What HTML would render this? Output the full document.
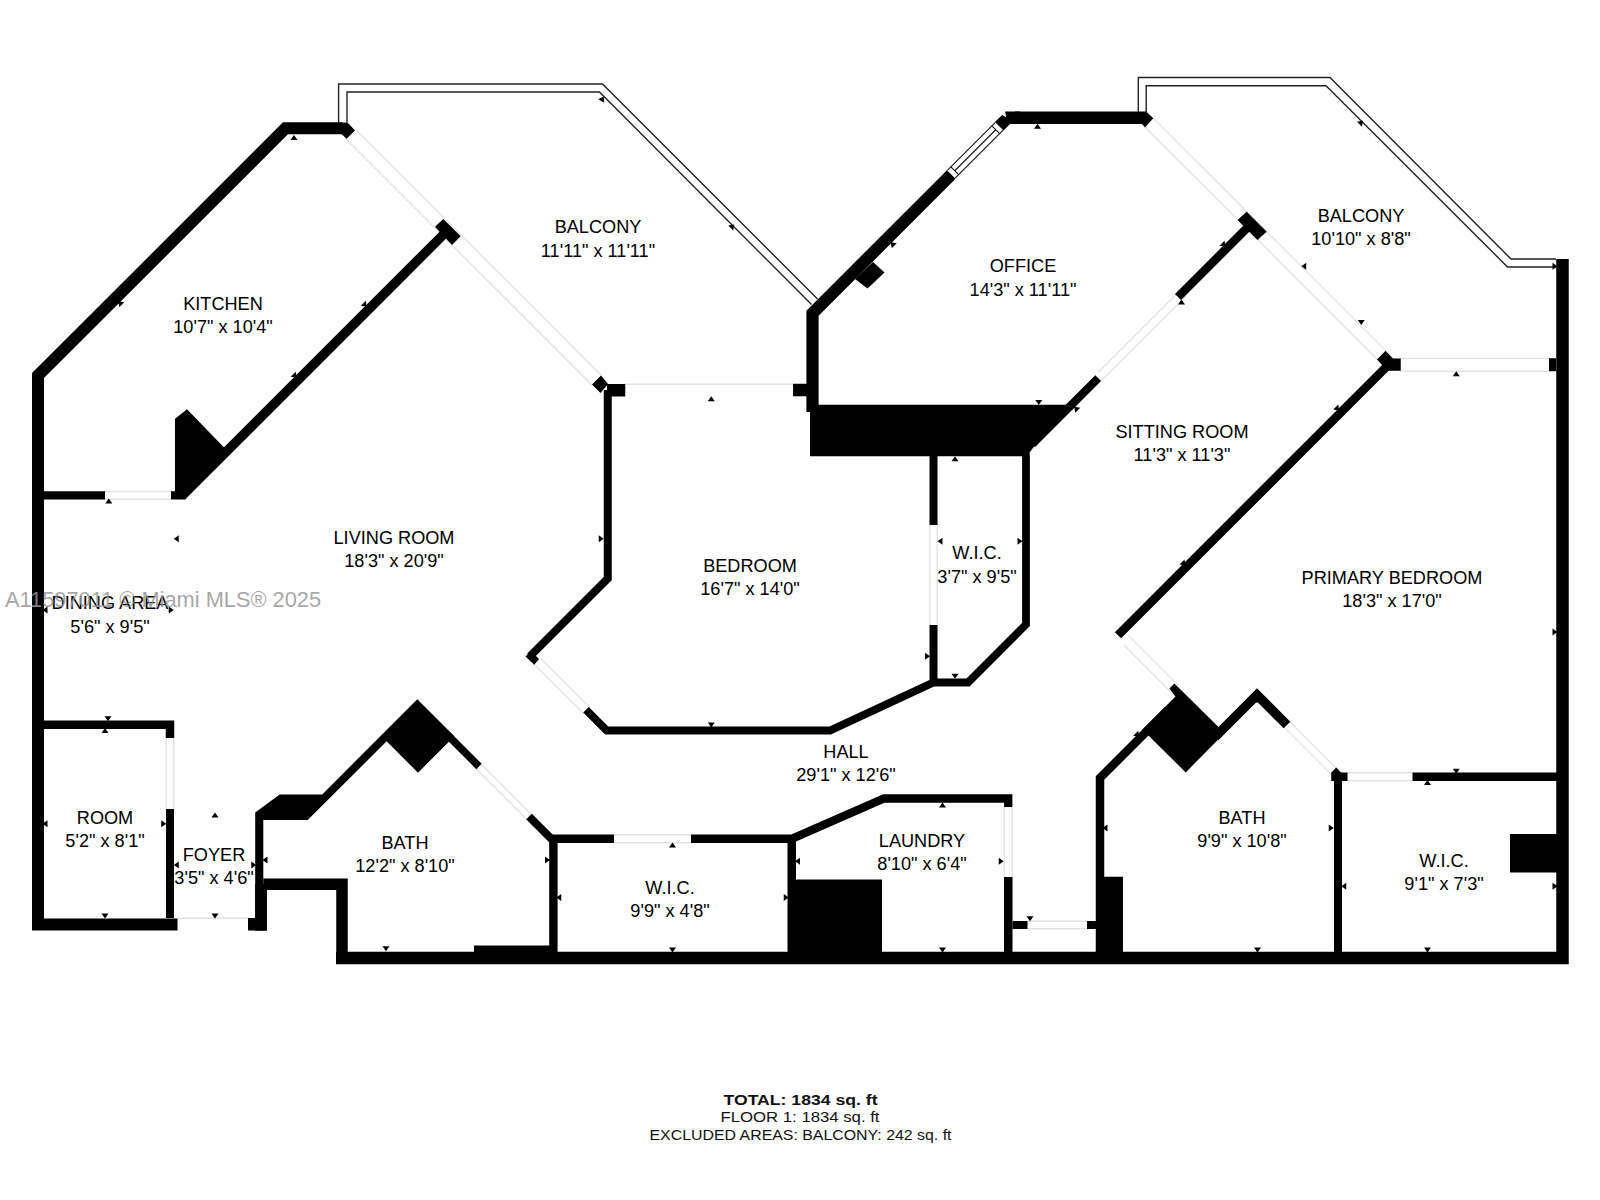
<!DOCTYPE html>
<html><head><meta charset="utf-8">
<style>
html,body{margin:0;padding:0;background:#fff;width:1600px;height:1200px;overflow:hidden}
svg{display:block}
.w{fill:none;stroke:#000;stroke-linejoin:miter;stroke-linecap:butt;stroke-miterlimit:10}
.b{fill:#000}
.r{fill:none;stroke:#222;stroke-width:1.4}
.k{stroke:#111;stroke-width:1.1}
.g{fill:none;stroke:#e2e2e2;stroke-width:1.3}
.t{font-family:"Liberation Sans",sans-serif;font-size:18.15px;fill:#000;text-anchor:middle}
.s{font-family:"Liberation Sans",sans-serif;font-size:14px;fill:#111;text-anchor:middle}
</style></head>
<body>
<svg width="1600" height="1200" viewBox="0 0 1600 1200">
<g id="glass">
<line class="g" x1="356" y1="130" x2="601" y2="375"/>
<line class="g" x1="345" y1="138" x2="592" y2="385"/>
<line class="g" x1="625" y1="384.25" x2="793" y2="384.25"/>
<line class="g" x1="541" y1="658.5" x2="590" y2="707.5"/>
<line class="g" x1="534" y1="664" x2="584" y2="714"/>
<line class="g" x1="1098" y1="372.5" x2="1180" y2="290.5"/>
<line class="g" x1="1101" y1="381" x2="1186" y2="296"/>
<line class="g" x1="1153" y1="118" x2="1386" y2="351"/>
<line class="g" x1="1145" y1="127" x2="1378" y2="360"/>
<line class="g" x1="1400" y1="358.5" x2="1549" y2="358.5"/>
<line class="g" x1="1400" y1="371.25" x2="1549" y2="371.25"/>
<line class="g" x1="1124" y1="645" x2="1176" y2="697"/>
<line class="g" x1="1128" y1="635" x2="1178" y2="685"/>
<line class="g" x1="1287" y1="719" x2="1337" y2="769"/>
<line class="g" x1="1284" y1="727" x2="1333" y2="776"/>
<line class="g" x1="1347" y1="772.75" x2="1412.5" y2="772.75"/>
<line class="g" x1="1347" y1="780.75" x2="1412.5" y2="780.75"/>
<line class="g" x1="1027.5" y1="921.25" x2="1087" y2="921.25"/>
<line class="g" x1="1027.5" y1="928.75" x2="1087" y2="928.75"/>
<line class="g" x1="1004.25" y1="807" x2="1004.25" y2="877"/>
<line class="g" x1="1012.25" y1="807" x2="1012.25" y2="877"/>
<line class="g" x1="614" y1="834.75" x2="691" y2="834.75"/>
<line class="g" x1="614" y1="842.75" x2="691" y2="842.75"/>
<line class="g" x1="479" y1="762" x2="533" y2="816"/>
<line class="g" x1="475" y1="767.5" x2="527" y2="819.5"/>
<line class="g" x1="166.25" y1="738" x2="166.25" y2="809"/>
<line class="g" x1="173.75" y1="738" x2="173.75" y2="809"/>
<line class="g" x1="177.5" y1="918.25" x2="248" y2="918.25"/>
<line class="g" x1="105" y1="491.5" x2="171" y2="491.5"/>
<line class="g" x1="105" y1="499.25" x2="171" y2="499.25"/>
<line class="g" x1="929.75" y1="525" x2="929.75" y2="625"/>
<line class="g" x1="937.25" y1="525" x2="937.25" y2="625"/>
</g>
<g id="rail">
<polyline class="r" points="338.6,122.5 338.6,84 602.5,84 817.5,299"/>
<polyline class="r" points="347,122.5 347,92 599.5,92 811.5,304.5"/>
<polyline class="r" points="1138.3,112 1138.3,77.5 1330,77.5 1511,259 1556,259"/>
<polyline class="r" points="1146.2,112 1146.2,85.8 1326,85.8 1507.5,267 1556,267"/>
</g>
<g id="walls">
<polyline class="w" stroke-width="12" points="177.5,924.5 38,924.5 38,375.6 285.45,128.35 342,128.35"/>
<polygon class="b" points="340,122.6 347.5,122.6 355,130.4 346.7,138.7 341.3,134 340,134"/>
<polyline class="w" stroke-width="8.25" points="44,495.4 105,495.4"/>
<polygon class="b" points="171,491.25 175,491.25 175,418.75 187,409.25 226,449.5 190,492 185,499.5 171,499.5"/>
<polyline class="w" stroke-width="9.5" points="182,496 446,232"/>
<polygon class="b" points="435,226.7 443.3,219 460.7,236.3 452,245"/>
<polygon class="b" points="592,384.5 601,375.5 608,384 600.5,393"/>
<rect class="b" x="607" y="384" width="18.25" height="12.5"/>
<rect class="b" x="793" y="383.75" width="14" height="12.5"/>
<polyline class="w" stroke-width="8" points="607.75,390 607.75,578.5 530,656.25"/>
<polygon class="b" points="525.5,656.5 531,651 539,659 534.25,664.75"/>
<polyline class="w" stroke-width="7.8" points="586,709.75 606.75,730.5 830,730.5 933.5,682.5 968,682.5 1026,624.5 1026,456"/>
<polyline class="w" stroke-width="8" points="933.5,456 933.5,525"/>
<polyline class="w" stroke-width="8" points="933.5,625 933.5,686"/>
<polygon class="b" points="810,404.7 1066,404.7 1029.7,452.3 1029.7,456.25 810,456.25"/>
<polyline class="w" stroke-width="8.2" points="1032,444.25 1098.2,378.05"/>
<polyline class="w" stroke-width="12.2" points="812.5,412 812.5,313.25 951.25,174.5"/>
<polygon class="b" points="994.94,121.94 1002.1,115 1006.2,117.25 1005.1,111.6 1020,111.6 1020,124 1010,124 1003.56,130.56"/>
<polyline class="w" stroke-width="12.4" points="1015,117.8 1146.7,117.8"/>
<polygon class="b" points="1140,112 1146.7,112 1153.3,118.3 1145,127.5 1141.7,123.7 1140,123.7"/>
<rect class="b" x="793" y="384" width="14" height="12"/>
<polygon class="b" points="855,279 873,262 884.5,272.5 867.5,288.5"/>
<polyline class="w" stroke-width="8.6" points="1250,225 1178,297"/>
<polygon class="b" points="1237.5,220 1246.7,211.7 1266.7,231.7 1257.5,240"/>
<polyline class="w" stroke-width="8.8" points="1390,363.25 1118,635.25"/>
<polygon class="b" points="1377,359.5 1385.5,350.75 1393,358.5 1400.75,358.5 1400.75,370.75 1388,370.75 1382,365"/>
<rect class="b" x="1549" y="358.25" width="7" height="13"/>
<polyline class="w" stroke-width="12.5" points="1562.5,259 1562.5,958 336,958"/>
<polyline class="w" stroke-width="8.5" points="1412.5,776.75 1557,776.75"/>
<polygon class="b" points="1331.25,772.5 1336.25,767.5 1341,772.5 1347.5,772.5 1347.5,781 1331.25,781"/>
<polyline class="w" stroke-width="8" points="1338,772.5 1338,952"/>
<rect class="b" x="1510" y="834" width="47" height="38.5"/>
<polygon class="b" points="1175.5,696.5 1169.4,688.6 1174.4,683.5 1224.6,733.1 1185.7,772.4 1148.4,735.6 1142,730"/>
<polyline class="w" stroke-width="8.5" points="1168,710 1100,778 1100,952"/>
<polyline class="w" stroke-width="9.4" points="1215,737 1257,695 1287,725"/>
<rect class="b" x="1103.75" y="876.75" width="19.25" height="75.25"/>
<rect class="b" x="1012.5" y="921" width="15" height="8"/>
<rect class="b" x="1087" y="921" width="9" height="8"/>
<polyline class="w" stroke-width="8.3" points="691,838.75 791.75,838.75 884,798.5 1008.25,798.5 1008.25,807"/>
<polyline class="w" stroke-width="8.5" points="791.75,838.75 791.75,952"/>
<polyline class="w" stroke-width="8.5" points="1008.25,877 1008.25,952"/>
<rect class="b" x="796" y="879.5" width="86" height="72.5"/>
<polyline class="w" stroke-width="8.4" points="614,838.75 553.4,838.75 553.4,952"/>
<polygon class="b" points="255.2,812.5 279.7,794.4 322.2,794.4 417.3,699.3 454.35,736.35 449,741.7 418,772.7 386.65,741.35 307.7,820 263.3,820 263.3,930.5 255.2,930.5"/>
<polyline class="w" stroke-width="7.5" points="447,734.5 479,766.5"/>
<polyline class="w" stroke-width="8" points="529,816.5 553.4,840.9"/>
<rect class="b" x="248" y="918" width="19" height="12.5"/>
<rect class="b" x="255.2" y="884" width="11.8" height="46.5"/>
<polyline class="w" stroke-width="11.5" points="263.3,884.25 342,884.25 342,958"/>
<rect class="b" x="474" y="945.5" width="79" height="6.5"/>
<polyline class="w" stroke-width="8.5" points="44,724.75 170,724.75 170,738"/>
<polyline class="w" stroke-width="8" points="170,809 170,918"/>
</g>
<g id="win">
<line class="k" x1="947.36" y1="170.36" x2="995.36" y2="122.36"/>
<line class="k" x1="955.14" y1="178.14" x2="1003.14" y2="130.14"/>
<line class="k" x1="954.75" y1="170.75" x2="995.75" y2="129.75"/>
<line class="k" x1="950.86" y1="166.86" x2="958.64" y2="174.64"/>
<line class="k" x1="991.86" y1="125.86" x2="999.64" y2="133.64"/>
</g>
<g id="markers" fill="#000">
<polygon points="294.00,135.00 297.50,140.00 290.50,140.00"/>
<polygon points="118.23,301.23 124.24,302.29 119.29,307.24"/>
<polygon points="366.77,306.77 360.76,305.71 365.71,300.76"/>
<polygon points="296.77,377.77 290.76,376.71 295.71,371.76"/>
<polygon points="108.75,498.50 112.25,503.50 105.25,503.50"/>
<polygon points="173.75,538.75 178.75,535.25 178.75,542.25"/>
<polygon points="42.50,610.00 47.50,606.50 47.50,613.50"/>
<polygon points="173.75,610.00 168.75,613.50 168.75,606.50"/>
<polygon points="108.00,721.25 104.50,716.25 111.50,716.25"/>
<polygon points="105.00,728.00 108.50,733.00 101.50,733.00"/>
<polygon points="42.50,823.75 47.50,820.25 47.50,827.25"/>
<polygon points="166.25,823.75 161.25,827.25 161.25,820.25"/>
<polygon points="105.00,918.50 101.50,913.50 108.50,913.50"/>
<polygon points="215.00,812.50 218.50,817.50 211.50,817.50"/>
<polygon points="173.75,865.00 178.75,861.50 178.75,868.50"/>
<polygon points="256.25,865.00 251.25,868.50 251.25,861.50"/>
<polygon points="215.00,918.50 211.50,913.50 218.50,913.50"/>
<polygon points="262.50,860.00 267.50,856.50 267.50,863.50"/>
<polygon points="550.00,860.00 545.00,863.50 545.00,856.50"/>
<polygon points="386.00,951.25 382.50,946.25 389.50,946.25"/>
<polygon points="672.50,842.50 676.00,847.50 669.00,847.50"/>
<polygon points="556.25,897.50 561.25,894.00 561.25,901.00"/>
<polygon points="788.75,897.50 783.75,901.00 783.75,894.00"/>
<polygon points="672.50,952.50 669.00,947.50 676.00,947.50"/>
<polygon points="795.00,861.25 800.00,857.75 800.00,864.75"/>
<polygon points="942.50,802.50 946.00,807.50 939.00,807.50"/>
<polygon points="1003.75,861.25 998.75,864.75 998.75,857.75"/>
<polygon points="942.50,952.50 939.00,947.50 946.00,947.50"/>
<polygon points="1030.00,921.25 1026.50,916.25 1033.50,916.25"/>
<polygon points="1102.50,828.00 1107.50,824.50 1107.50,831.50"/>
<polygon points="1333.75,828.00 1328.75,831.50 1328.75,824.50"/>
<polygon points="1257.50,952.50 1254.00,947.50 1261.00,947.50"/>
<polygon points="1139.27,736.77 1133.26,735.71 1138.21,730.76"/>
<polygon points="1257.50,697.50 1261.00,702.50 1254.00,702.50"/>
<polygon points="1427.50,780.00 1431.00,785.00 1424.00,785.00"/>
<polygon points="1341.25,886.25 1346.25,882.75 1346.25,889.75"/>
<polygon points="1557.50,886.25 1552.50,889.75 1552.50,882.75"/>
<polygon points="1427.50,952.50 1424.00,947.50 1431.00,947.50"/>
<polygon points="1456.25,773.75 1452.75,768.75 1459.75,768.75"/>
<polygon points="1456.25,371.25 1459.75,376.25 1452.75,376.25"/>
<polygon points="1557.50,632.00 1552.50,635.50 1552.50,628.50"/>
<polygon points="1339.27,410.52 1333.26,409.46 1338.21,404.51"/>
<polygon points="1185.52,565.52 1179.51,564.46 1184.46,559.51"/>
<polygon points="1074.23,406.73 1080.24,407.79 1075.29,412.74"/>
<polygon points="1225.52,246.77 1219.51,245.71 1224.46,240.76"/>
<polygon points="1301.25,266.25 1306.25,262.75 1306.25,269.75"/>
<polygon points="1361.25,325.00 1357.75,320.00 1364.75,320.00"/>
<polygon points="1363.02,120.73 1361.96,126.74 1357.01,121.79"/>
<polygon points="1557.50,266.25 1552.50,269.75 1552.50,262.75"/>
<polygon points="1037.50,123.75 1041.00,128.75 1034.00,128.75"/>
<polygon points="1181.50,299.50 1185.00,304.50 1178.00,304.50"/>
<polygon points="890.73,242.23 896.74,243.29 891.79,248.24"/>
<polygon points="1038.75,405.00 1035.25,400.00 1042.25,400.00"/>
<polygon points="603.75,96.58 604.28,102.67 598.22,99.17"/>
<polygon points="734.27,224.48 733.21,230.49 728.26,225.54"/>
<polygon points="711.25,396.25 714.75,401.25 707.75,401.25"/>
<polygon points="603.75,538.75 598.75,542.25 598.75,535.25"/>
<polygon points="711.25,727.50 707.75,722.50 714.75,722.50"/>
<polygon points="955.00,456.25 958.50,461.25 951.50,461.25"/>
<polygon points="937.50,541.25 942.50,537.75 942.50,544.75"/>
<polygon points="1022.50,541.25 1017.50,544.75 1017.50,537.75"/>
<polygon points="955.00,678.75 951.50,673.75 958.50,673.75"/>
<polygon points="930.00,656.25 925.00,659.75 925.00,652.75"/>
</g>
<g id="labels">
<text class="t" x="598" y="233">BALCONY</text>
<text class="t" x="598" y="257">11'11&quot; x 11'11&quot;</text>
<text class="t" x="223" y="310">KITCHEN</text>
<text class="t" x="223" y="333">10'7&quot; x 10'4&quot;</text>
<text class="t" x="1023" y="272">OFFICE</text>
<text class="t" x="1023" y="296">14'3&quot; x 11'11&quot;</text>
<text class="t" x="1361" y="222">BALCONY</text>
<text class="t" x="1361" y="245">10'10&quot; x 8'8&quot;</text>
<text class="t" x="394" y="544">LIVING ROOM</text>
<text class="t" x="394" y="567">18'3&quot; x 20'9&quot;</text>
<text class="t" x="1182" y="438">SITTING ROOM</text>
<text class="t" x="1182" y="461">11'3&quot; x 11'3&quot;</text>
<text class="t" x="750" y="572">BEDROOM</text>
<text class="t" x="750" y="595">16'7&quot; x 14'0&quot;</text>
<text class="t" x="977" y="559">W.I.C.</text>
<text class="t" x="977" y="583">3'7&quot; x 9'5&quot;</text>
<text class="t" x="1392" y="584">PRIMARY BEDROOM</text>
<text class="t" x="1392" y="607">18'3&quot; x 17'0&quot;</text>
<text class="t" x="110" y="609">DINING AREA</text>
<text class="t" x="110" y="633">5'6&quot; x 9'5&quot;</text>
<text class="t" x="846" y="758">HALL</text>
<text class="t" x="846" y="781">29'1&quot; x 12'6&quot;</text>
<text class="t" x="105" y="824">ROOM</text>
<text class="t" x="105" y="847">5'2&quot; x 8'1&quot;</text>
<text class="t" x="214" y="861">FOYER</text>
<text class="t" x="214" y="884">3'5&quot; x 4'6&quot;</text>
<text class="t" x="405" y="849">BATH</text>
<text class="t" x="405" y="872">12'2&quot; x 8'10&quot;</text>
<text class="t" x="922" y="847">LAUNDRY</text>
<text class="t" x="922" y="870">8'10&quot; x 6'4&quot;</text>
<text class="t" x="670" y="894">W.I.C.</text>
<text class="t" x="670" y="917">9'9&quot; x 4'8&quot;</text>
<text class="t" x="1242" y="824">BATH</text>
<text class="t" x="1242" y="847">9'9&quot; x 10'8&quot;</text>
<text class="t" x="1444" y="867">W.I.C.</text>
<text class="t" x="1444" y="890">9'1&quot; x 7'3&quot;</text>
</g>
<g id="summary">
<text class="s" x="800.5" y="1104.5" font-weight="bold" textLength="154" lengthAdjust="spacingAndGlyphs">TOTAL: 1834 sq. ft</text>
<text class="s" x="800" y="1122" textLength="159" lengthAdjust="spacingAndGlyphs">FLOOR 1: 1834 sq. ft</text>
<text class="s" x="800.5" y="1140" textLength="302" lengthAdjust="spacingAndGlyphs">EXCLUDED AREAS: BALCONY: 242 sq. ft</text>
</g>
<text x="5" y="607" style="font-family:'Liberation Sans',sans-serif;font-size:21.8px;fill:rgba(150,150,150,0.85)">A11597011 © Miami MLS® 2025</text>
</svg>
</body></html>
